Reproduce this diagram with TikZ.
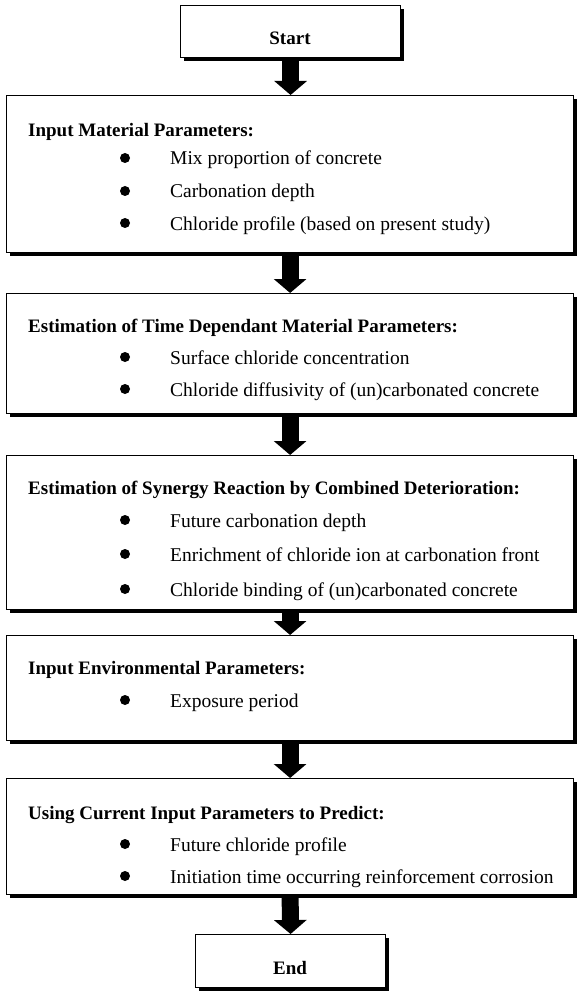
\documentclass[tikz,border=0pt]{standalone}
\usepackage{fontspec}
\setmainfont{Liberation Serif}
\usetikzlibrary{arrows.meta,shadows}
\begin{document}
\begin{tikzpicture}[x=1pt,y=-1pt,
  box/.style={draw, line width=1.2pt, fill=white, rectangle, inner sep=0pt, anchor=north west,
    drop shadow={shadow xshift=3pt, shadow yshift=-3.5pt, fill=black, opacity=1}},
  ttl/.style={anchor=base west, inner sep=0pt, font=\fontsize{19pt}{22pt}\selectfont\bfseries},
  itm/.style={anchor=base west, inner sep=0pt, font=\fontsize{19.5pt}{22pt}\selectfont},
  ctr/.style={anchor=base, inner sep=0pt, font=\fontsize{19pt}{22pt}\selectfont\bfseries},
  dot/.style={circle, fill=black, minimum size=10pt, inner sep=0pt},
  blk/.style={line width=17pt, -{Triangle[width=32pt,length=14pt]}}
]
\useasboundingbox (0,0) rectangle (579,992);
% boxes
\node[box, minimum width=220pt, minimum height=52pt] (start) at (180,5) {};
\node[box, minimum width=567pt, minimum height=157pt] (b1) at (6,95) {};
\node[box, minimum width=567pt, minimum height=120pt] (b2) at (6,293) {};
\node[box, minimum width=567pt, minimum height=154pt] (b3) at (6,455) {};
\node[box, minimum width=567pt, minimum height=105pt] (b4) at (6,635) {};
\node[box, minimum width=567pt, minimum height=116pt] (b5) at (6,778) {};
\node[box, minimum width=190pt, minimum height=53pt] (end) at (195,934) {};
% arrows
\draw[blk] (start.south) -- (start.south |- b1.north);
\draw[blk] (b1.south) -- (b2.north);
\draw[blk] (b2.south) -- (b3.north);
\draw[blk] (b3.south) -- (b4.north);
\draw[blk] (b4.south) -- (b5.north);
\draw[blk] (b5.south) -- (end.north);
% start / end text
\node[ctr] (tstart) at (290,45) {Start};
\node[ctr] (tend) at (290,974) {End};
% box 1
\node[ttl] (t1) at (28,137) {Input Material Parameters:};
\node[dot] (d11) at (125,158) {};
\node[itm] (i11) at (170,165) {Mix proportion of concrete};
\node[dot] (d12) at (125,191) {};
\node[itm] (i12) at (170,198) {Carbonation depth};
\node[dot] (d13) at (125,223) {};
\node[itm] (i13) at (170,230) {Chloride profile (based on present study)};
% box 2
\node[ttl] (t2) at (28,332) {Estimation of Time Dependant Material Parameters:};
\node[dot] (d21) at (125,357) {};
\node[itm] (i21) at (170,364) {Surface chloride concentration};
\node[dot] (d22) at (125,389) {};
\node[itm] (i22) at (170,396) {Chloride diffusivity of (un)carbonated concrete};
% box 3
\node[ttl] (t3) at (28,494) {Estimation of Synergy Reaction by Combined Deterioration:};
\node[dot] (d31) at (125,520) {};
\node[itm] (i31) at (170,527) {Future carbonation depth};
\node[dot] (d32) at (125,554) {};
\node[itm] (i32) at (170,561) {Enrichment of chloride ion at carbonation front};
\node[dot] (d33) at (125,589) {};
\node[itm] (i33) at (170,596) {Chloride binding of (un)carbonated concrete};
% box 4
\node[ttl] (t4) at (28,674) {Input Environmental Parameters:};
\node[dot] (d41) at (125,700) {};
\node[itm] (i41) at (170,707) {Exposure period};
% box 5
\node[ttl] (t5) at (28,819) {Using Current Input Parameters to Predict:};
\node[dot] (d51) at (125,844) {};
\node[itm] (i51) at (170,851) {Future chloride profile};
\node[dot] (d52) at (125,876) {};
\node[itm] (i52) at (170,883) {Initiation time occurring reinforcement corrosion};
\end{tikzpicture}
\end{document}
